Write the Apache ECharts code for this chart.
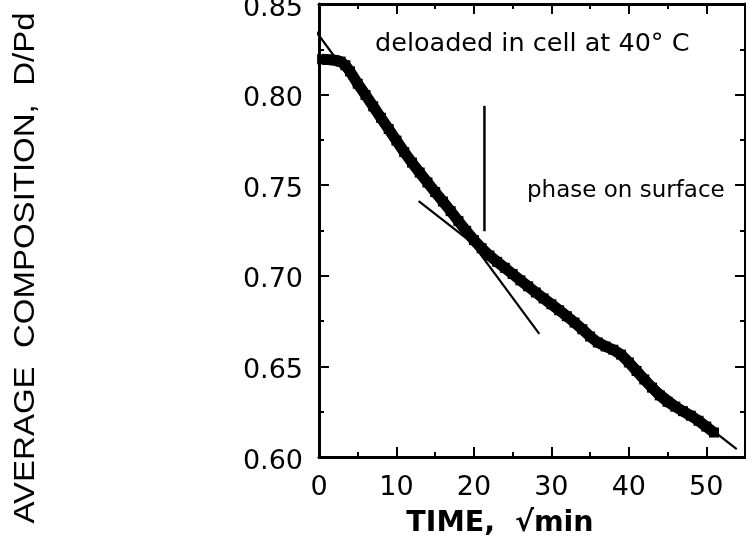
<!DOCTYPE html>
<html><head><meta charset="utf-8">
<script src="https://cdn.jsdelivr.net/npm/echarts@6/dist/echarts.min.js"></script>
<style>html,body{margin:0;padding:0;background:#fff}#c{width:746px;height:537px}</style>
</head><body><div id="c"></div>
<script>
// Measured curve (time in sqrt(min), composition D/Pd)
const timeValues = [0.4,1.2,2.0,2.8,3.4,4.0,5.0,6.0,7.0,8.0,9.0,10.0,11.0,12.0,13.0,14.0,15.0,16.0,17.0,18.0,19.0,20.0,21.0,22.0,23.0,24.0,25.0,26.0,27.0,28.0,29.0,30.0,31.0,32.0,33.0,34.0,35.0,36.0,37.0,38.0,39.0,40.0,41.0,42.0,43.0,44.0,45.0,46.0,47.0,48.0,49.0,50.0,51.0];
const compositionValues = [0.8195,0.8193,0.819,0.8182,0.8162,0.8128,0.806,0.7998,0.7935,0.7872,0.781,0.7746,0.7683,0.7625,0.757,0.7515,0.7462,0.741,0.7357,0.7302,0.7248,0.7197,0.7152,0.7112,0.7077,0.7044,0.701,0.6975,0.6942,0.6908,0.6875,0.6843,0.681,0.6777,0.6742,0.6705,0.6665,0.6632,0.661,0.6592,0.6565,0.6522,0.6475,0.6428,0.6383,0.634,0.6305,0.6278,0.6253,0.6228,0.62,0.6168,0.6135];
// Tangent lines and marker
const fitEarlyTime = [-0.77, 28.44];
const fitEarlyComp = [0.837, 0.668];
const fitLateTime = [12.87, 53.93];
const fitLateComp = [0.7412, 0.6044];
const markerTime = [21.36, 21.36];
const markerComp = [0.7938, 0.7246];
// Tick labels
const xTickLabels = ['0','10','20','30','40','50'];
const yTickLabels = ['0.60','0.65','0.70','0.75','0.80','0.85'];

const zip = (a, b) => a.map((v, i) => [v, b[i]]);
const BLACK = '#000';
const tickFont = 'DejaVu Sans';

function xAxisDef(position, interval, tickLen, showLine, showLabel) {
  return {
    type: 'value', position, min: 0, max: 55, interval,
    axisLine: { show: showLine, onZero: false, lineStyle: { color: BLACK, width: 3 } },
    axisTick: { show: true, inside: true, length: tickLen, lineStyle: { color: BLACK, width: 2 } },
    splitLine: { show: false },
    axisLabel: {
      show: showLabel, margin: 17, fontSize: 27, fontFamily: tickFont, color: BLACK,
      showMaxLabel: false,
      formatter: v => { const i = Math.round(v / 10); return (Math.abs(v - i * 10) < 1e-6 && xTickLabels[i] !== undefined) ? xTickLabels[i] : ''; }
    }
  };
}
function yAxisDef(position, showLabel) {
  return {
    type: 'value', position, min: 0.6, max: 0.85, interval: 0.05,
    axisLine: { show: true, onZero: false, lineStyle: { color: BLACK, width: 3 } },
    axisTick: { show: true, inside: true, length: 10, lineStyle: { color: BLACK, width: 2 } },
    minorTick: { show: true, splitNumber: 2, length: 5, lineStyle: { color: BLACK, width: 2 } },
    splitLine: { show: false }, minorSplitLine: { show: false },
    axisLabel: {
      show: showLabel, margin: 16, color: BLACK,
      formatter: v => { const i = Math.round((v - 0.6) / 0.05); return yTickLabels[i] !== undefined ? '{t|' + yTickLabels[i] + '}' : ''; },
      rich: { t: { fontSize: 27, fontFamily: tickFont, color: BLACK, padding: [9, 0, 0, 0] } }
    }
  };
}

const chart = echarts.init(document.getElementById('c'), null, { renderer: 'canvas' });
chart.setOption({
  animation: false,
  backgroundColor: '#fff',
  grid: { left: 319, right: 1, top: 4, bottom: 80, containLabel: false, outerBoundsMode: 'none' },
  xAxis: [
    xAxisDef('bottom', 10, 10, true, true),
    xAxisDef('bottom', 5, 5, false, false),
    xAxisDef('top', 10, 10, true, false),
    xAxisDef('top', 5, 5, false, false)
  ],
  yAxis: [ yAxisDef('left', true), yAxisDef('right', false) ],
  series: [
    { type: 'line', data: zip(fitEarlyTime, fitEarlyComp), symbol: 'none', clip: false, z: 2,
      lineStyle: { color: BLACK, width: 2.2 } },
    { type: 'line', data: zip(fitLateTime, fitLateComp), symbol: 'none', clip: false, z: 2,
      lineStyle: { color: BLACK, width: 2.2 } },
    { type: 'line', data: zip(markerTime, markerComp), symbol: 'none', clip: false, z: 2,
      lineStyle: { color: BLACK, width: 2.5 } },
    { type: 'line', data: zip(timeValues, compositionValues), symbol: 'rect', symbolSize: 10, showSymbol: true, z: 5,
      itemStyle: { color: BLACK, borderWidth: 0 }, lineStyle: { color: BLACK, width: 11, join: 'round', cap: 'butt' } }
  ],
  graphic: [
    { type: 'text', x: 375, y: 44, style: { text: 'deloaded in cell at 40° C', font: '25.5px "DejaVu Sans"', fill: BLACK, align: 'left', textAlign: 'left', verticalAlign: 'middle', textVerticalAlign: 'middle' } },
    { type: 'text', x: 527, y: 191, style: { text: 'phase on surface', font: '23px "DejaVu Sans"', fill: BLACK, align: 'left', textAlign: 'left', verticalAlign: 'middle', textVerticalAlign: 'middle' } },
    { type: 'text', x: 500, y: 524, style: { text: 'TIME,  √min', font: 'bold 28.5px "DejaVu Sans"', fill: BLACK, align: 'center', textAlign: 'center', verticalAlign: 'middle', textVerticalAlign: 'middle' } },
    { type: 'text', x: 26, y: 268, rotation: Math.PI / 2, scaleX: 1.1, style: { text: 'AVERAGE  COMPOSITION,  D/Pd', font: '30px "Liberation Sans"', fill: BLACK, align: 'center', textAlign: 'center', verticalAlign: 'middle', textVerticalAlign: 'middle' } }
  ]
});
</script></body></html>
